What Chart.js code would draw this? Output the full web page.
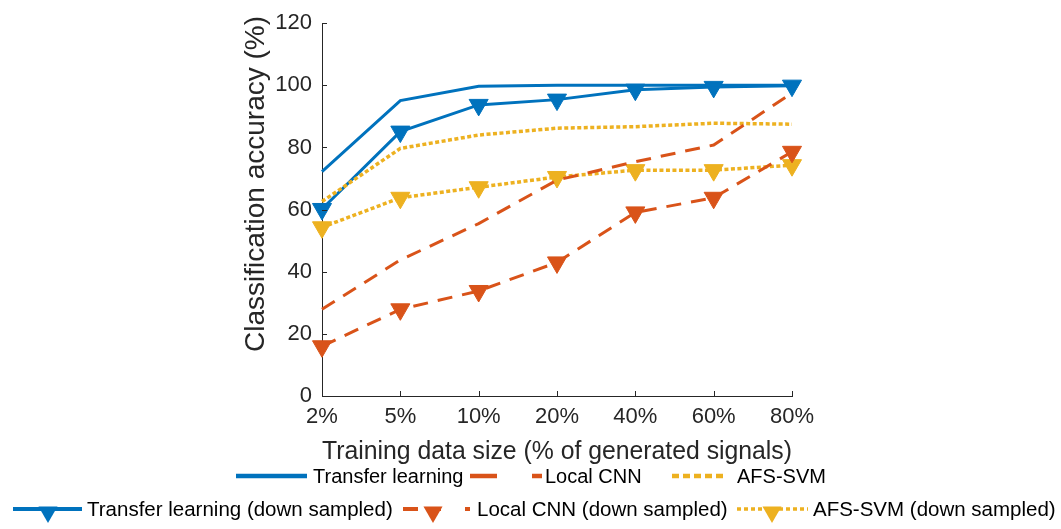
<!DOCTYPE html>
<html>
<head>
<meta charset="utf-8">
<script src="https://cdn.jsdelivr.net/npm/chart.js@4"></script>
<style>
html, body { margin: 0; padding: 0; background: #fff; }
#wrap { width: 1061px; height: 529px; }
</style>
</head>
<body>
<div id="wrap"><canvas id="chart" width="1061" height="529"></canvas></div>
<script>
// values
const categories = ['2%', '5%', '10%', '20%', '40%', '60%', '80%']
const yTicks = [0, 20, 40, 60, 80, 100, 120]

const transfer = [72.2, 95.1, 99.7, 100, 100, 100, 100]
const transferDown = [60.2, 85.1, 93.7, 95.4, 98.6, 99.5, 99.9]
const localCnn = [27.9, 43.8, 55.5, 69.5, 75.4, 80.8, 97.5]
const localCnnDown = [16.0, 27.9, 33.8, 43.0, 59.1, 63.8, 78.6]
const afsSvm = [62.6, 79.7, 84.0, 86.2, 86.7, 87.8, 87.5]
const afsSvmDown = [54.3, 63.8, 67.2, 70.5, 72.7, 72.7, 74.3]

const FONT = '"Liberation Sans", Arial, Helvetica, sans-serif'
const AXIS = '#262626'
const BLUE = '#0072BD'
const ORANGE = '#D95319'
const YELLOW = '#EDB120'

const DASHED = [15, 10]
const DOTTED = [4, 2.5]

function series(label, data, color, dash, marker) {
    return {
        label: label,
        data: data,
        borderColor: color,
        backgroundColor: color,
        borderWidth: dash === DOTTED ? 3.5 : 3,
        borderDash: dash,
        borderCapStyle: 'butt',
        pointStyle: 'triangle',
        pointRotation: 180,
        pointRadius: marker ? 11 : 0,
        pointHoverRadius: marker ? 11 : 0,
        pointBackgroundColor: color,
        pointBorderColor: color,
        pointBorderWidth: 1,
        tension: 0,
        fill: false,
        clip: false
    }
}

const datasets = [
    series('Transfer learning', transfer, BLUE, [], false),
    series('Local CNN', localCnn, ORANGE, DASHED, false),
    series('AFS-SVM', afsSvm, YELLOW, DOTTED, false),
    series('Transfer learning (down sampled)', transferDown, BLUE, [], true),
    series('Local CNN (down sampled)', localCnnDown, ORANGE, DASHED, true),
    series('AFS-SVM (down sampled)', afsSvmDown, YELLOW, DOTTED, true)
]

// legend layout (two rows under the axis, like the figure)
const legendItems = [
    { ds: 0, y: 476, segs: [[236, 307]], width: 4.5, tx: 313, size: 20 },
    { ds: 1, y: 476, segs: [[470, 497], [532, 542]], width: 4.5, tx: 545, size: 20 },
    { ds: 2, y: 476, segs: [[672, 727]], width: 4.5, dash: [7, 4], tx: 737, size: 20 },
    { ds: 3, y: 509, segs: [[13, 82]], width: 4, mark: 48, tx: 87, size: 20.5 },
    { ds: 4, y: 509, segs: [[403, 418], [427, 441], [465, 470]], width: 4, mark: 433, tx: 477, size: 20.5 },
    { ds: 5, y: 509, segs: [[737, 808]], width: 3.5, dash: [4, 3], mark: 772, tx: 813, size: 20.5 }
]

const extras = {
    id: 'extras',
    afterDraw(chart) {
        const { ctx, chartArea, scales } = chart
        ctx.save()

        // ticks pointing into the plot
        ctx.strokeStyle = AXIS
        ctx.lineWidth = 1
        ctx.setLineDash([])
        ctx.beginPath()
        scales.x.ticks.forEach((t, i) => {
            const px = Math.round(scales.x.getPixelForTick(i)) + 0.5
            ctx.moveTo(px, chartArea.bottom)
            ctx.lineTo(px, chartArea.bottom - 5)
        })
        scales.y.ticks.forEach((t, i) => {
            const py = Math.round(scales.y.getPixelForTick(i)) + 0.5
            ctx.moveTo(chartArea.left, py)
            ctx.lineTo(chartArea.left + 5, py)
        })
        ctx.stroke()

        // y axis title
        ctx.save()
        ctx.translate(256, 184)
        ctx.rotate(-Math.PI / 2)
        ctx.fillStyle = AXIS
        ctx.font = '28px ' + FONT
        ctx.textAlign = 'center'
        ctx.textBaseline = 'middle'
        ctx.fillText('Classification accuracy (%)', 0, 0)
        ctx.restore()

        // legend
        legendItems.forEach(item => {
            const ds = chart.data.datasets[item.ds]
            ctx.strokeStyle = ds.borderColor
            ctx.lineWidth = item.width
            ctx.lineCap = 'butt'
            ctx.setLineDash(item.dash || [])
            item.segs.forEach(s => {
                ctx.beginPath()
                ctx.moveTo(s[0], item.y)
                ctx.lineTo(s[1], item.y)
                ctx.stroke()
            })
            ctx.setLineDash([])
            if (item.mark) {
                const r = 11
                const cy = item.y + 3
                ctx.fillStyle = ds.borderColor
                ctx.beginPath()
                ctx.moveTo(item.mark, cy + r)
                ctx.lineTo(item.mark - r * 0.866, cy - r / 2)
                ctx.lineTo(item.mark + r * 0.866, cy - r / 2)
                ctx.closePath()
                ctx.fill()
            }
            ctx.fillStyle = '#000'
            ctx.font = item.size + 'px ' + FONT
            ctx.textAlign = 'left'
            ctx.textBaseline = 'middle'
            ctx.fillText(ds.label, item.tx, item.y + 1)
        })

        ctx.restore()
    }
}

Chart.defaults.font.family = FONT

new Chart(document.getElementById('chart'), {
    type: 'line',
    data: {
        labels: categories,
        datasets: datasets
    },
    options: {
        responsive: false,
        animation: false,
        events: [],
        layout: {
            padding: { left: 0, right: 269, top: 20, bottom: 0 }
        },
        plugins: {
            legend: { display: false },
            tooltip: { enabled: false }
        },
        scales: {
            x: {
                type: 'category',
                offset: false,
                grid: { display: false, drawTicks: false },
                border: { display: true, color: AXIS, width: 1 },
                ticks: {
                    color: AXIS,
                    font: { size: 22 },
                    padding: 8,
                    maxRotation: 0,
                    autoSkip: false
                },
                title: {
                    display: true,
                    text: 'Training data size (% of generated signals)',
                    color: AXIS,
                    font: { size: 25 },
                    padding: { top: 0, bottom: 62 }
                },
                afterFit(scale) {
                    scale.height = 133
                }
            },
            y: {
                min: 0,
                max: 120,
                afterBuildTicks(scale) {
                    scale.ticks = yTicks.map(v => ({ value: v }))
                },
                grid: { display: false, drawTicks: false },
                border: { display: true, color: AXIS, width: 1 },
                ticks: {
                    color: AXIS,
                    font: { size: 22 },
                    padding: 10
                },
                afterFit(scale) {
                    scale.width = 322
                }
            }
        }
    },
    plugins: [extras]
})
</script>
</body>
</html>
